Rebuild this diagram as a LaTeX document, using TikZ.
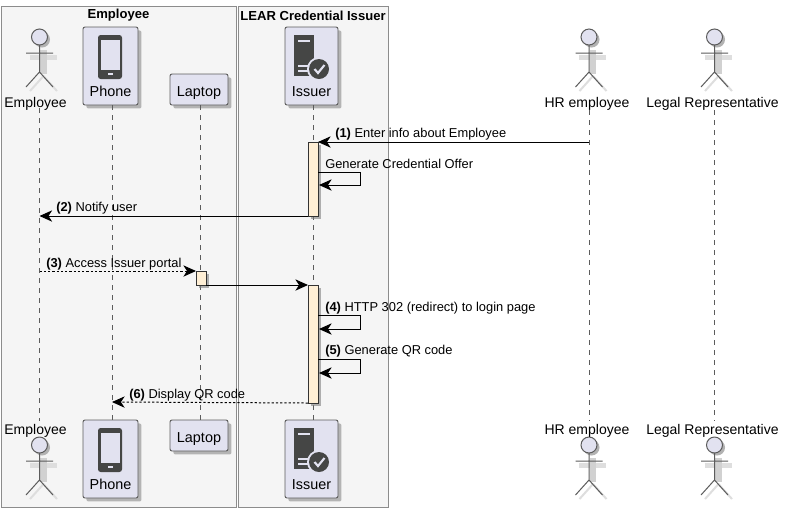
\documentclass[tikz,border=0pt]{standalone}
\usepackage{fontspec}
\setmainfont{Liberation Sans}
\usepackage{xcolor}
\usetikzlibrary{arrows.meta,shadows}
\definecolor{partfill}{HTML}{E2E2F0}
\definecolor{partline}{HTML}{5C5C5C}
\definecolor{boxfill}{HTML}{F5F5F5}
\definecolor{boxline}{HTML}{8C8C8C}
\definecolor{barfill}{HTML}{FFEFD5}
\definecolor{icondark}{HTML}{454645}
\tikzset{
  groupbox/.style={draw=boxline,fill=boxfill,line width=0.7pt},
  grouptitle/.style={font=\fontsize{9.8pt}{11pt}\selectfont\bfseries,inner sep=0pt},
  partbox/.style={draw=partline,fill=partfill,rounded corners=1.5pt,line width=0.7pt,inner sep=0pt,
    font=\fontsize{10.8pt}{12pt}\selectfont,drop shadow={shadow xshift=2.6pt,shadow yshift=-2.6pt,opacity=0.55}},
  actorname/.style={font=\fontsize{10.5pt}{12pt}\selectfont,inner sep=0pt,text height=7.5pt,text depth=2.5pt},
  lifeline/.style={draw=partline,line width=0.5pt,dash pattern=on 3.75pt off 3.75pt},
  actbar/.style={draw=black!80,fill=barfill,line width=0.7pt,minimum width=7.5pt,inner sep=0pt,outer sep=0pt,
    drop shadow={shadow xshift=2.4pt,shadow yshift=-2.4pt,opacity=0.6}},
  msg/.style={draw=black,line width=0.75pt,-{Stealth[length=9.5pt,width=8.5pt,inset=2.8pt]}},
  msgdash/.style={msg,dash pattern=on 1.7pt off 1.5pt},
  msgtext/.style={font=\fontsize{9.65pt}{11pt}\selectfont,inner sep=0pt,anchor=base west},
  actorpic/.pic={
    \draw[black!13,line width=3.75pt] (-10,20) -- (17,20);
    \draw[black!18,line width=5pt] (4,13) -- (4,37);
    \draw[black!13,line width=1.5pt] (4,39) -- (-9.5,54) (4,39) -- (17.5,54);
    \fill[black!30] (2.5,2.5) circle (8);
    \draw[partline,line width=0.75pt,fill=partfill] (0,0) circle (8);
    \draw[partline,line width=0.75pt] (-13.5,16) -- (13.5,16) (0,8) -- (0,35) (-13.5,50) -- (0,35) -- (13.5,50);
  },
  phonepic/.pic={
    \fill[icondark,rounded corners=2pt] (-12.5,8) rectangle (11.5,52);
    \fill[partfill] (-9.5,13) rectangle (9.5,43);
    \fill[partfill] (-2.5,46) rectangle (2,48);
  },
  issuerpic/.pic={
    \fill[icondark] (9,8) rectangle (29,49);
    \fill[partfill] (13,13) rectangle (25,15);
    \fill[partfill] (13,38) rectangle (24,39.5);
    \fill[partfill] (13,43) rectangle (24,44.5);
    \fill[partfill] (34,42) circle (12);
    \fill[icondark] (34,42) circle (10);
    \draw[partfill,line width=1.6pt] (29.5,42) -- (33,46) -- (39.5,38);
  },
}
\begin{document}
\begin{tikzpicture}[x=0.75pt,y=-0.75pt]
\useasboundingbox (0,0) rectangle (785,512);
\fill[white] (0,0) rectangle (785,512);
\draw[groupbox] (1,6) rectangle (236,507);
\draw[groupbox] (238,6) rectangle (388,507);
\node[grouptitle] (titleEmployee) at (118.5,15.5) {Employee};
\node[grouptitle] (titleIssuer) at (313,15.5) {LEAR Credential Issuer};

\pic at (39.5,37) {actorpic};
\pic at (39.5,445) {actorpic};
\pic at (589,37) {actorpic};
\pic at (589,445) {actorpic};
\pic at (714.5,37) {actorpic};
\pic at (714.5,445) {actorpic};

\node[actorname] (employeeTop) at (35.5,104) {Employee};
\node[actorname] (employeeBot) at (35.5,431.5) {Employee};
\node[actorname] (hrTop) at (587,104) {HR employee};
\node[actorname] (hrBot) at (587,431.5) {HR employee};
\node[actorname] (legalTop) at (712.5,104) {Legal Representative};
\node[actorname] (legalBot) at (712.5,431.5) {Legal Representative};

\node[partbox,minimum width=41.25pt,text height=52pt,text depth=6.5pt] (phoneTop) at (110.5,66) {Phone};
\node[partbox,minimum width=41.25pt,text height=52pt,text depth=6.5pt] (phoneBot) at (110.5,459) {Phone};
\node[partbox,minimum width=43.5pt,text height=16.75pt,text depth=6.5pt] (laptopTop) at (199,89.5) {Laptop};
\node[partbox,minimum width=43.5pt,text height=16.75pt,text depth=6.5pt] (laptopBot) at (199,435.5) {Laptop};
\node[partbox,minimum width=39.75pt,text height=52pt,text depth=6.5pt] (issuerTop) at (311.5,66) {Issuer};
\node[partbox,minimum width=39.75pt,text height=52pt,text depth=6.5pt] (issuerBot) at (311.5,459) {Issuer};

\pic at (110.5,27) {phonepic};
\pic at (110.5,420) {phonepic};
\pic at (285,27) {issuerpic};
\pic at (285,420) {issuerpic};

\coordinate (employeeA) at (39.5,108);
\coordinate (employeeB) at (39.5,421);
\coordinate (phoneA) at (112,105);
\coordinate (phoneB) at (112,420);
\coordinate (laptopA) at (200.5,105);
\coordinate (laptopB) at (200.5,420);
\coordinate (issuerA) at (313,105);
\coordinate (issuerB) at (313,420);
\coordinate (hrA) at (589,110);
\coordinate (hrB) at (589,421);
\coordinate (legalA) at (714.5,110);
\coordinate (legalB) at (714.5,421);
\draw[lifeline] (employeeA) -- (employeeB);
\draw[lifeline] (phoneA) -- (phoneB);
\draw[lifeline] (laptopA) -- (laptopB);
\draw[lifeline] (issuerA) -- (issuerB);
\draw[lifeline] (hrA) -- (hrB);
\draw[lifeline] (legalA) -- (legalB);

\node[actbar,minimum height=55.5pt] (barOffer) at (313,179) {};
\node[actbar,minimum height=10.5pt] (barLaptop) at (201,278) {};
\node[actbar,minimum height=88.5pt] (barLogin) at (313,344) {};

\coordinate (hrMsg) at (589,142);
\coordinate (offerOut) at (318,172);
\coordinate (offerIn) at (319,185);
\coordinate (notifyEnd) at (39.5,216);
\coordinate (accessStart) at (39.5,271);
\coordinate (loginOut) at (318,315);
\coordinate (loginIn) at (319,329);
\coordinate (qrOut) at (318,359);
\coordinate (qrIn) at (319,373);
\coordinate (displayEnd) at (112,402);

\draw[msg] (hrMsg) -- (barOffer.north east);
\draw[msg] (offerOut) -- ++(42,0) |- (offerIn);
\draw[msg] (barOffer.south west) -- (notifyEnd);
\draw[msgdash] (accessStart) -- (barLaptop.north west);
\draw[msg] (barLaptop.south east) -- (barLogin.north west);
\draw[msg] (loginOut) -- ++(42,0) |- (loginIn);
\draw[msg] (qrOut) -- ++(42,0) |- (qrIn);
\draw[msgdash] (barLogin.south west) -- (displayEnd);

\node[msgtext] (textOne) at (335,137) {\textbf{(1)} Enter info about Employee};
\node[msgtext] (textOffer) at (325,168) {Generate Credential Offer};
\node[msgtext] (textTwo) at (56,211) {\textbf{(2)} Notify user};
\node[msgtext] (textThree) at (46,267) {\textbf{(3)} Access Issuer portal};
\node[msgtext] (textFour) at (325,311) {\textbf{(4)} HTTP 302 (redirect) to login page};
\node[msgtext] (textFive) at (325,354) {\textbf{(5)} Generate QR code};
\node[msgtext] (textSix) at (129,398) {\textbf{(6)} Display QR code};
\end{tikzpicture}
\end{document}
